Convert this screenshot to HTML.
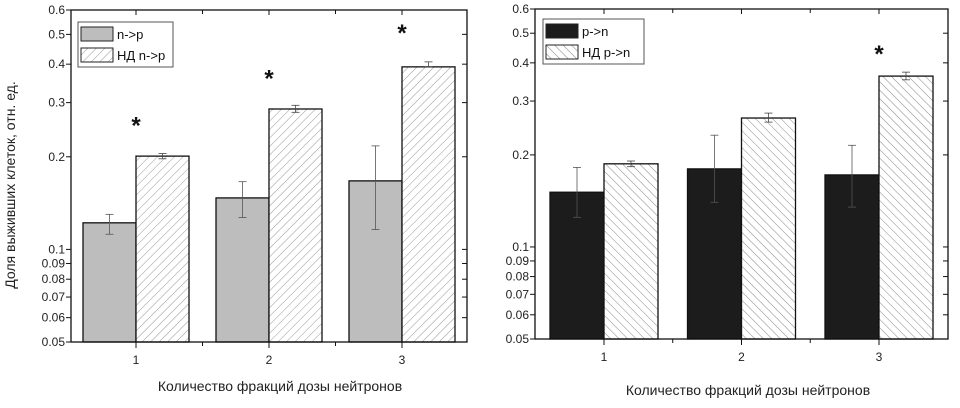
<!DOCTYPE html>
<html><head><meta charset="utf-8"><style>
body{margin:0;background:#fff;}
svg{display:block;font-family:"Liberation Sans",Arial,sans-serif;}
</style></head><body>
<svg id="s" width="960" height="408" xmlns="http://www.w3.org/2000/svg">
<defs>
<pattern id="hL" width="6" height="6" patternUnits="userSpaceOnUse" patternTransform="rotate(45)"><rect width="6" height="6" fill="#fff"/><line x1="0" y1="0" x2="0" y2="6" stroke="#999" stroke-width="1"/></pattern>
<pattern id="hR" width="6" height="6" patternUnits="userSpaceOnUse" patternTransform="rotate(-45)"><rect width="6" height="6" fill="#fff"/><line x1="0" y1="0" x2="0" y2="6" stroke="#888" stroke-width="1"/></pattern>
</defs>
<text transform="translate(15,185) rotate(-90)" text-anchor="middle" font-size="14" fill="#222">Доля выживших клеток, отн. ед.</text>
<text x="280" y="391" text-anchor="middle" font-size="14" fill="#222">Количество фракций дозы нейтронов</text>
<text x="748" y="395" text-anchor="middle" font-size="14" fill="#222">Количество фракций дозы нейтронов</text>
</svg>
<script>
var categories=["1","2","3"];
var yTicks=[0.05,0.06,0.07,0.08,0.09,0.1,0.2,0.3,0.4,0.5,0.6];
var yTickLabels=["0.05","0.06","0.07","0.08","0.09","0.1","0.2","0.3","0.4","0.5","0.6"];
var npVals=[0.122,0.147,0.167];
var npErrHi=[0.130,0.166,0.217];
var npErrLo=[0.112,0.127,0.116];
var ndNpVals=[0.201,0.286,0.392];
var ndNpErrHi=[0.205,0.294,0.407];
var ndNpErrLo=[0.197,0.279,0.392];
var npStars=[0.26,0.37,0.52];
var pnVals=[0.151,0.180,0.172];
var pnErrHi=[0.182,0.232,0.215];
var pnErrLo=[0.125,0.140,0.135];
var ndPnVals=[0.187,0.264,0.362];
var ndPnErrHi=[0.191,0.274,0.373];
var ndPnErrLo=[0.183,0.256,0.352];
var pnStars=[null,null,0.44];
var NS="http://www.w3.org/2000/svg",svg=document.getElementById('s');
function mk(t,a,p){var e=document.createElementNS(NS,t);for(var k in a)e.setAttribute(k,a[k]);(p||svg).appendChild(e);return e;}
function panel(o){
  var g=mk('g',{});
  
  
  var L=o.x0,R=o.x1,T=o.y0,B=o.y1;
  var y=function(v){return B-(Math.log10(v)-Math.log10(0.05))/Math.log10(12)*(B-T);};
  var x=function(i){return L+o.first+i*o.step;};
  var w=o.bw;
  for(var i=0;i<categories.length;i++){
    var b=mk('rect',{x:x(i)-w,y:y(o.a[i]),width:w,height:B-y(o.a[i]),fill:o.fillA,stroke:'#111','stroke-width':1.3},g);
    
    
    var b2=mk('rect',{x:x(i),y:y(o.b[i]),width:w,height:B-y(o.b[i]),fill:o.fillB,stroke:'#111','stroke-width':1.3},g);
    
    
    [[x(i)-w/2,o.ahi[i],o.alo[i],o.errA],[x(i)+w/2,o.bhi[i],o.blo[i],'#444']].forEach(function(e){
      var eg=mk('g',{stroke:e[3],'stroke-width':0.8},g);
      
      
      mk('line',{x1:e[0],x2:e[0],y1:y(e[1]),y2:y(e[2])},eg);
      mk('line',{x1:e[0]-4,x2:e[0]+4,y1:y(e[1]),y2:y(e[1])},eg);
      mk('line',{x1:e[0]-4,x2:e[0]+4,y1:y(e[2]),y2:y(e[2])},eg);
    });
    if(o.stars[i]){var s=mk('text',{x:x(i),y:y(o.stars[i])+12,'text-anchor':'middle','font-size':24,'font-weight':'bold',fill:'#111'},g);s.textContent='*';
      
      }
    var tx=mk('line',{x1:x(i),x2:x(i),y1:B,y2:B+6,stroke:'#111'},g);
    mk('line',{x1:x(i),x2:x(i),y1:T,y2:T+5,stroke:'#111'},g);
    var tl=mk('text',{x:x(i),y:B+22,'text-anchor':'middle','font-size':12,fill:'#222'},g);tl.textContent=categories[i];
    
    
    if(i<categories.length-1){mk('line',{x1:x(i)+o.step/2,x2:x(i)+o.step/2,y1:B,y2:B+4,stroke:'#111'},g);mk('line',{x1:x(i)+o.step/2,x2:x(i)+o.step/2,y1:T,y2:T+4,stroke:'#111'},g);}
  }
  for(var j=0;j<yTicks.length;j++){
    var yy=y(yTicks[j]);
    mk('line',{x1:L-5,x2:L,y1:yy,y2:yy,stroke:'#111'},g);
    mk('line',{x1:R,x2:R-5,y1:yy,y2:yy,stroke:'#111'},g);
    var t=mk('text',{x:L-6,y:yy+4,'text-anchor':'end','font-size':12,fill:'#222'},g);t.textContent=yTickLabels[j];
    
    
  }
  var f=mk('rect',{x:L,y:T,width:R-L,height:B-T,fill:'none',stroke:'#111','stroke-width':1.3},g);
  
  
  var lg=mk('g',{},g);
  
  
  mk('rect',{x:o.lx,y:o.ly,width:o.lw,height:45,fill:'#fff',stroke:'#555'},lg);
  mk('rect',{x:o.lx+3,y:o.ly+5,width:32,height:14,fill:o.fillA,stroke:'#222'},lg);
  mk('rect',{x:o.lx+3,y:o.ly+26,width:32,height:14,fill:o.fillB,stroke:'#222'},lg);
  var l1=mk('text',{x:o.lx+39,y:o.ly+17,'font-size':13,fill:'#111'},lg);l1.textContent=o.labA;
  
  
  var l2=mk('text',{x:o.lx+39,y:o.ly+38,'font-size':13,fill:'#111'},lg);l2.textContent=o.labB;
  
  
}
panel({name:'left-chart',x0:71,x1:467,y0:10,y1:342,first:65,step:133,bw:53,a:npVals,ahi:npErrHi,alo:npErrLo,b:ndNpVals,bhi:ndNpErrHi,blo:ndNpErrLo,stars:npStars,fillA:'#bdbdbd',fillB:'url(#hL)',errA:'#555',keyA:'np',keyB:'nd-np',labA:'n->p',labB:'НД n->p',lx:78,ly:22,lw:95});
panel({name:'right-chart',x0:535,x1:948,y0:9,y1:339,first:69,step:137.5,bw:54,a:pnVals,ahi:pnErrHi,alo:pnErrLo,b:ndPnVals,bhi:ndPnErrHi,blo:ndPnErrLo,stars:pnStars,fillA:'#1c1c1c',fillB:'url(#hR)',errA:'#555',keyA:'pn',keyB:'nd-pn',labA:'p->n',labB:'НД p->n',lx:543,ly:19,lw:101});
</script>
</body></html>
